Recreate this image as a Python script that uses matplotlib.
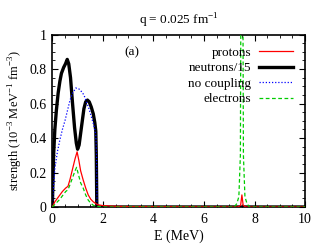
import matplotlib
matplotlib.use("Agg")
import matplotlib.pyplot as plt
from matplotlib.ticker import MultipleLocator, FuncFormatter

plt.rcParams['font.family'] = ['Liberation Serif', 'DejaVu Serif']
plt.rcParams['mathtext.fontset'] = 'custom'
plt.rcParams['mathtext.rm'] = 'Liberation Serif'

# neutrons/15
E_n = [0.0, 0.05, 0.1, 0.16, 0.23, 0.3, 0.36, 0.45, 0.52, 0.59, 0.65, 0.72, 0.8, 0.88, 0.95, 1.0, 1.06, 1.15, 1.25, 1.32, 1.39, 1.46, 1.54, 1.62, 1.68, 1.72, 1.74, 1.76, 2.0, 10.0]
S_n = [0.0, 0.30, 0.45, 0.56, 0.66, 0.73, 0.775, 0.81, 0.83, 0.856, 0.83, 0.75, 0.60, 0.46, 0.37, 0.335, 0.36, 0.46, 0.57, 0.61, 0.62, 0.61, 0.58, 0.54, 0.49, 0.44, 0.30, 0.0, 0.0, 0.0]

# no coupling
E_nc = [0.0, 0.05, 0.1, 0.2, 0.3, 0.4, 0.5, 0.6, 0.7, 0.8, 0.93, 1.05, 1.15, 1.25, 1.35, 1.45, 1.55, 1.65, 1.72, 1.75, 1.77, 2.0, 10.0]
S_nc = [0.0, 0.12, 0.22, 0.32, 0.39, 0.45, 0.50, 0.56, 0.62, 0.66, 0.69, 0.685, 0.67, 0.65, 0.61, 0.57, 0.52, 0.47, 0.42, 0.30, 0.0, 0.0, 0.0]

# protons
E_p = [0.0, 0.1, 0.2, 0.3, 0.4, 0.53, 0.62, 0.7, 0.8, 0.9, 0.98, 1.05, 1.12, 1.22, 1.32, 1.42, 1.52, 1.62, 1.72, 1.8, 2.0, 2.5, 3.0, 7.35, 7.45, 7.5, 7.55, 7.65, 10.0]
S_p = [0.0, 0.03, 0.05, 0.07, 0.09, 0.11, 0.12, 0.16, 0.22, 0.28, 0.32, 0.27, 0.21, 0.157, 0.11, 0.07, 0.045, 0.03, 0.02, 0.013, 0.008, 0.004, 0.002, 0.0, 0.01, 0.07, 0.01, 0.0, 0.0]

# electrons
E_e = [0.0, 0.1, 0.2, 0.3, 0.4, 0.53, 0.62, 0.7, 0.8, 0.9, 0.96, 1.03, 1.12, 1.22, 1.32, 1.42, 1.52, 1.62, 1.75, 2.0, 7.2, 7.3, 7.38, 7.44, 7.5, 7.56, 7.62, 7.7, 7.8, 10.0]
S_e = [0.0, 0.015, 0.03, 0.045, 0.065, 0.09, 0.10, 0.13, 0.17, 0.21, 0.23, 0.19, 0.14, 0.11, 0.07, 0.04, 0.022, 0.01, 0.004, 0.0, 0.0, 0.02, 0.06, 0.3, 3.0, 0.3, 0.06, 0.02, 0.0, 0.0]

x_ticks = [0, 2, 4, 6, 8, 10]
y_ticks = [0, 0.2, 0.4, 0.6, 0.8, 1.0]

fig = plt.figure(figsize=(3.27, 2.47), dpi=100)
ax = fig.add_axes([0.160, 0.162, 0.773, 0.698])

ax.plot(E_p, S_p, color='#ff0000', lw=0.9, label='protons', zorder=3)
ax.plot(E_n, S_n, color='black', lw=2.4, label='neutrons/15', zorder=2)
ax.plot(E_nc, S_nc, color='#0000ff', lw=0.9, ls=(0, (1, 1.5)), label='no coupling', zorder=2)
ax.plot(E_e, S_e, color='#00cc00', lw=0.9, ls=(0, (3, 2)), label='electrons', zorder=4)

ax.set_xlim(0, 10)
ax.set_ylim(0, 1)
ax.set_xticks(x_ticks)
ax.set_yticks(y_ticks)
ax.xaxis.set_minor_locator(MultipleLocator(0.5))
ax.yaxis.set_minor_locator(MultipleLocator(0.05))
ax.yaxis.set_major_formatter(FuncFormatter(lambda v, p: f"{v:g}"))
ax.tick_params(which='both', direction='in', top=True, right=True, labelsize=10)
ax.tick_params(which='major', length=4, width=0.8, pad=4)
ax.tick_params(which='minor', length=2, width=0.6)
for s in ax.spines.values():
    s.set_linewidth(1.2)

ax.set_xlabel('E (MeV)', fontsize=10, labelpad=3)
ax.set_ylabel('strength (10$^{-3}$ MeV$^{-1}$ fm$^{-3}$)', fontsize=9, labelpad=3)
ax.set_title('q = 0.025 fm$^{-1}$', fontsize=9.5, pad=7)
ax.text(3.15, 0.9, '(a)', fontsize=9.5, ha='center', va='center')

leg = ax.legend(loc='upper right', frameon=False, fontsize=9.5, markerfirst=False,
                handlelength=2.6, handletextpad=0.6, labelspacing=0.25,
                borderaxespad=0.5)
for t in leg.get_texts():
    t.set_ha('right')

fig.savefig('out.png', dpi=100)
